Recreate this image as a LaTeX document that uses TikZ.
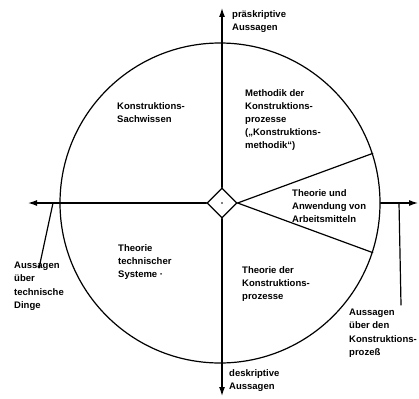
\documentclass[tikz,border=0pt]{standalone}
\usepackage{fontspec}
\setmainfont{Liberation Sans}
\usetikzlibrary{shapes.geometric,arrows.meta}
\begin{document}
\begin{tikzpicture}[x=1pt,y=-1pt,
  lbl/.style={align=left,inner sep=0pt,anchor=north west,font=\fontsize{9.5}{13.2}\selectfont\bfseries},
  ln/.style={line width=1.2pt,line cap=round},
  arr/.style={ln,-{Latex[length=9pt,width=6pt]}}]
\useasboundingbox (0,0) rectangle (419,398);
% circle and centre
\node[draw,circle,line width=1.2pt,minimum size=320pt,inner sep=0pt] (c) at (220,203) {};
\node[draw,diamond,aspect=1,minimum size=30pt,inner sep=0pt,line width=1.2pt] (d) at (222,203) {};
\fill (d.center) circle (0.9pt);
% axis end points
\coordinate (top) at (222,8);
\coordinate (bot) at (222,396);
\coordinate (lft) at (28,203);
\coordinate (rgt) at (418,203);
\draw[arr] (d.north) -- (top);
\draw[arr] (d.south) -- (bot);
\draw[arr] (d.west) -- (lft);
\draw[arr] (c.east) -- (rgt);
% wedge
\draw[ln] (d.east) -- (c.18);
\draw[ln] (d.east) -- (c.-18);
% texts
\node[lbl] (pra) at (232,10) {präskriptive\\Aussagen};
\node[lbl] (des) at (229,369) {deskriptive\\Aussagen};
\node[lbl] (ksw) at (117,102) {Konstruktions-\\Sachwissen};
\node[lbl] (mkp) at (245,89) {Methodik der\\Konstruktions-\\prozesse\\(„Konstruktions-\\methodik“)};
\node[lbl] (taa) at (292,189) {Theorie und\\Anwendung von\\Arbeitsmitteln};
\node[lbl] (tts) at (118,244) {Theorie\\technischer\\Systeme ·};
\node[lbl] (tkp) at (242,266) {Theorie der\\Konstruktions-\\prozesse};
\node[lbl] (atd) at (14,262) {Aussagen\\über\\technische\\Dinge};
\node[lbl] (akp) at (349,309) {Aussagen\\über den\\Konstruktions-\\prozeß};
% leaders
\coordinate (ll) at (53,203);
\coordinate (rl) at (399,203);
\coordinate (rlb) at (401,305);
\draw[ln] ([yshift=-6pt]atd.north) -- (ll);
\draw[ln] (rlb) -- (rl);
\end{tikzpicture}
\end{document}
